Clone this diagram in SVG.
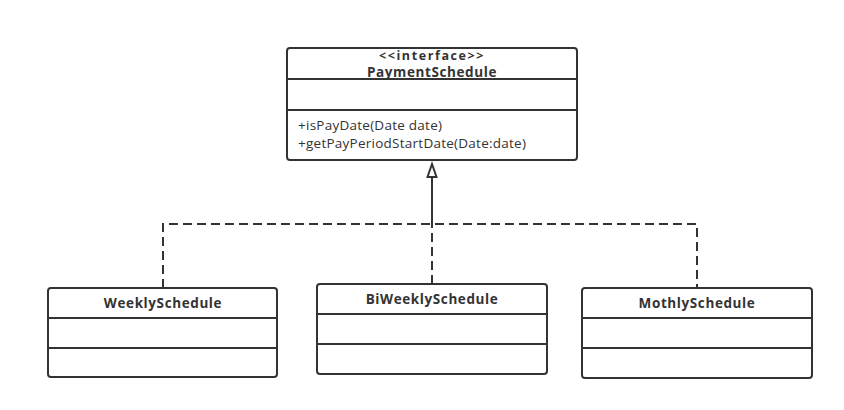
<svg xmlns="http://www.w3.org/2000/svg" width="844" height="410" viewBox="0 0 844 410">
<style>
.box{fill:#fff;stroke:#333;stroke-width:2}
.div{stroke:#333;stroke-width:2}
.t{font-family:"Open Sans","DejaVu Sans",sans-serif;font-size:13.5px;fill:#333;letter-spacing:0.25px}
.b{font-weight:bold;text-anchor:middle;letter-spacing:0.6px}
.con{fill:none;stroke:#333;stroke-width:2}
.dash{stroke-dasharray:9,5}
</style>
<rect width="844" height="410" fill="#fff"/>
<g id="connectors">
<path class="con dash" d="M163,288 V224 H697 V288"/>
<path class="con dash" d="M432,284 V224"/>
<path class="con" d="M432,224 V177"/>
<polygon points="432,164 427.5,177 436.5,177" fill="#fff" stroke="#333" stroke-width="2"/>
</g>
<g id="PaymentSchedule">
<rect class="box" x="287" y="48" width="290" height="112" rx="3"/>
<line class="div" x1="287" y1="79" x2="577" y2="79"/>
<line class="div" x1="287" y1="110" x2="577" y2="110"/>
<text class="t b" x="432" y="60" style="font-size:12.5px;letter-spacing:1.6px">&lt;&lt;interface&gt;&gt;</text>
<text class="t b" x="432" y="77">PaymentSchedule</text>
<text class="t" x="298" y="130">+isPayDate(Date date)</text>
<text class="t" x="298" y="148">+getPayPeriodStartDate(Date:date)</text>
</g>
<g id="WeeklySchedule">
<rect class="box" x="48" y="288" width="229" height="89" rx="3"/>
<line class="div" x1="48" y1="318" x2="277" y2="318"/>
<line class="div" x1="48" y1="348" x2="277" y2="348"/>
<text class="t b" x="163" y="308">WeeklySchedule</text>
</g>
<g id="BiWeeklySchedule">
<rect class="box" x="317" y="284" width="230" height="90" rx="3"/>
<line class="div" x1="317" y1="314" x2="547" y2="314"/>
<line class="div" x1="317" y1="344" x2="547" y2="344"/>
<text class="t b" x="432" y="304">BiWeeklySchedule</text>
</g>
<g id="MothlySchedule">
<rect class="box" x="582" y="288" width="230" height="90" rx="3"/>
<line class="div" x1="582" y1="318" x2="812" y2="318"/>
<line class="div" x1="582" y1="348" x2="812" y2="348"/>
<text class="t b" x="697" y="308">MothlySchedule</text>
</g>
</svg>
